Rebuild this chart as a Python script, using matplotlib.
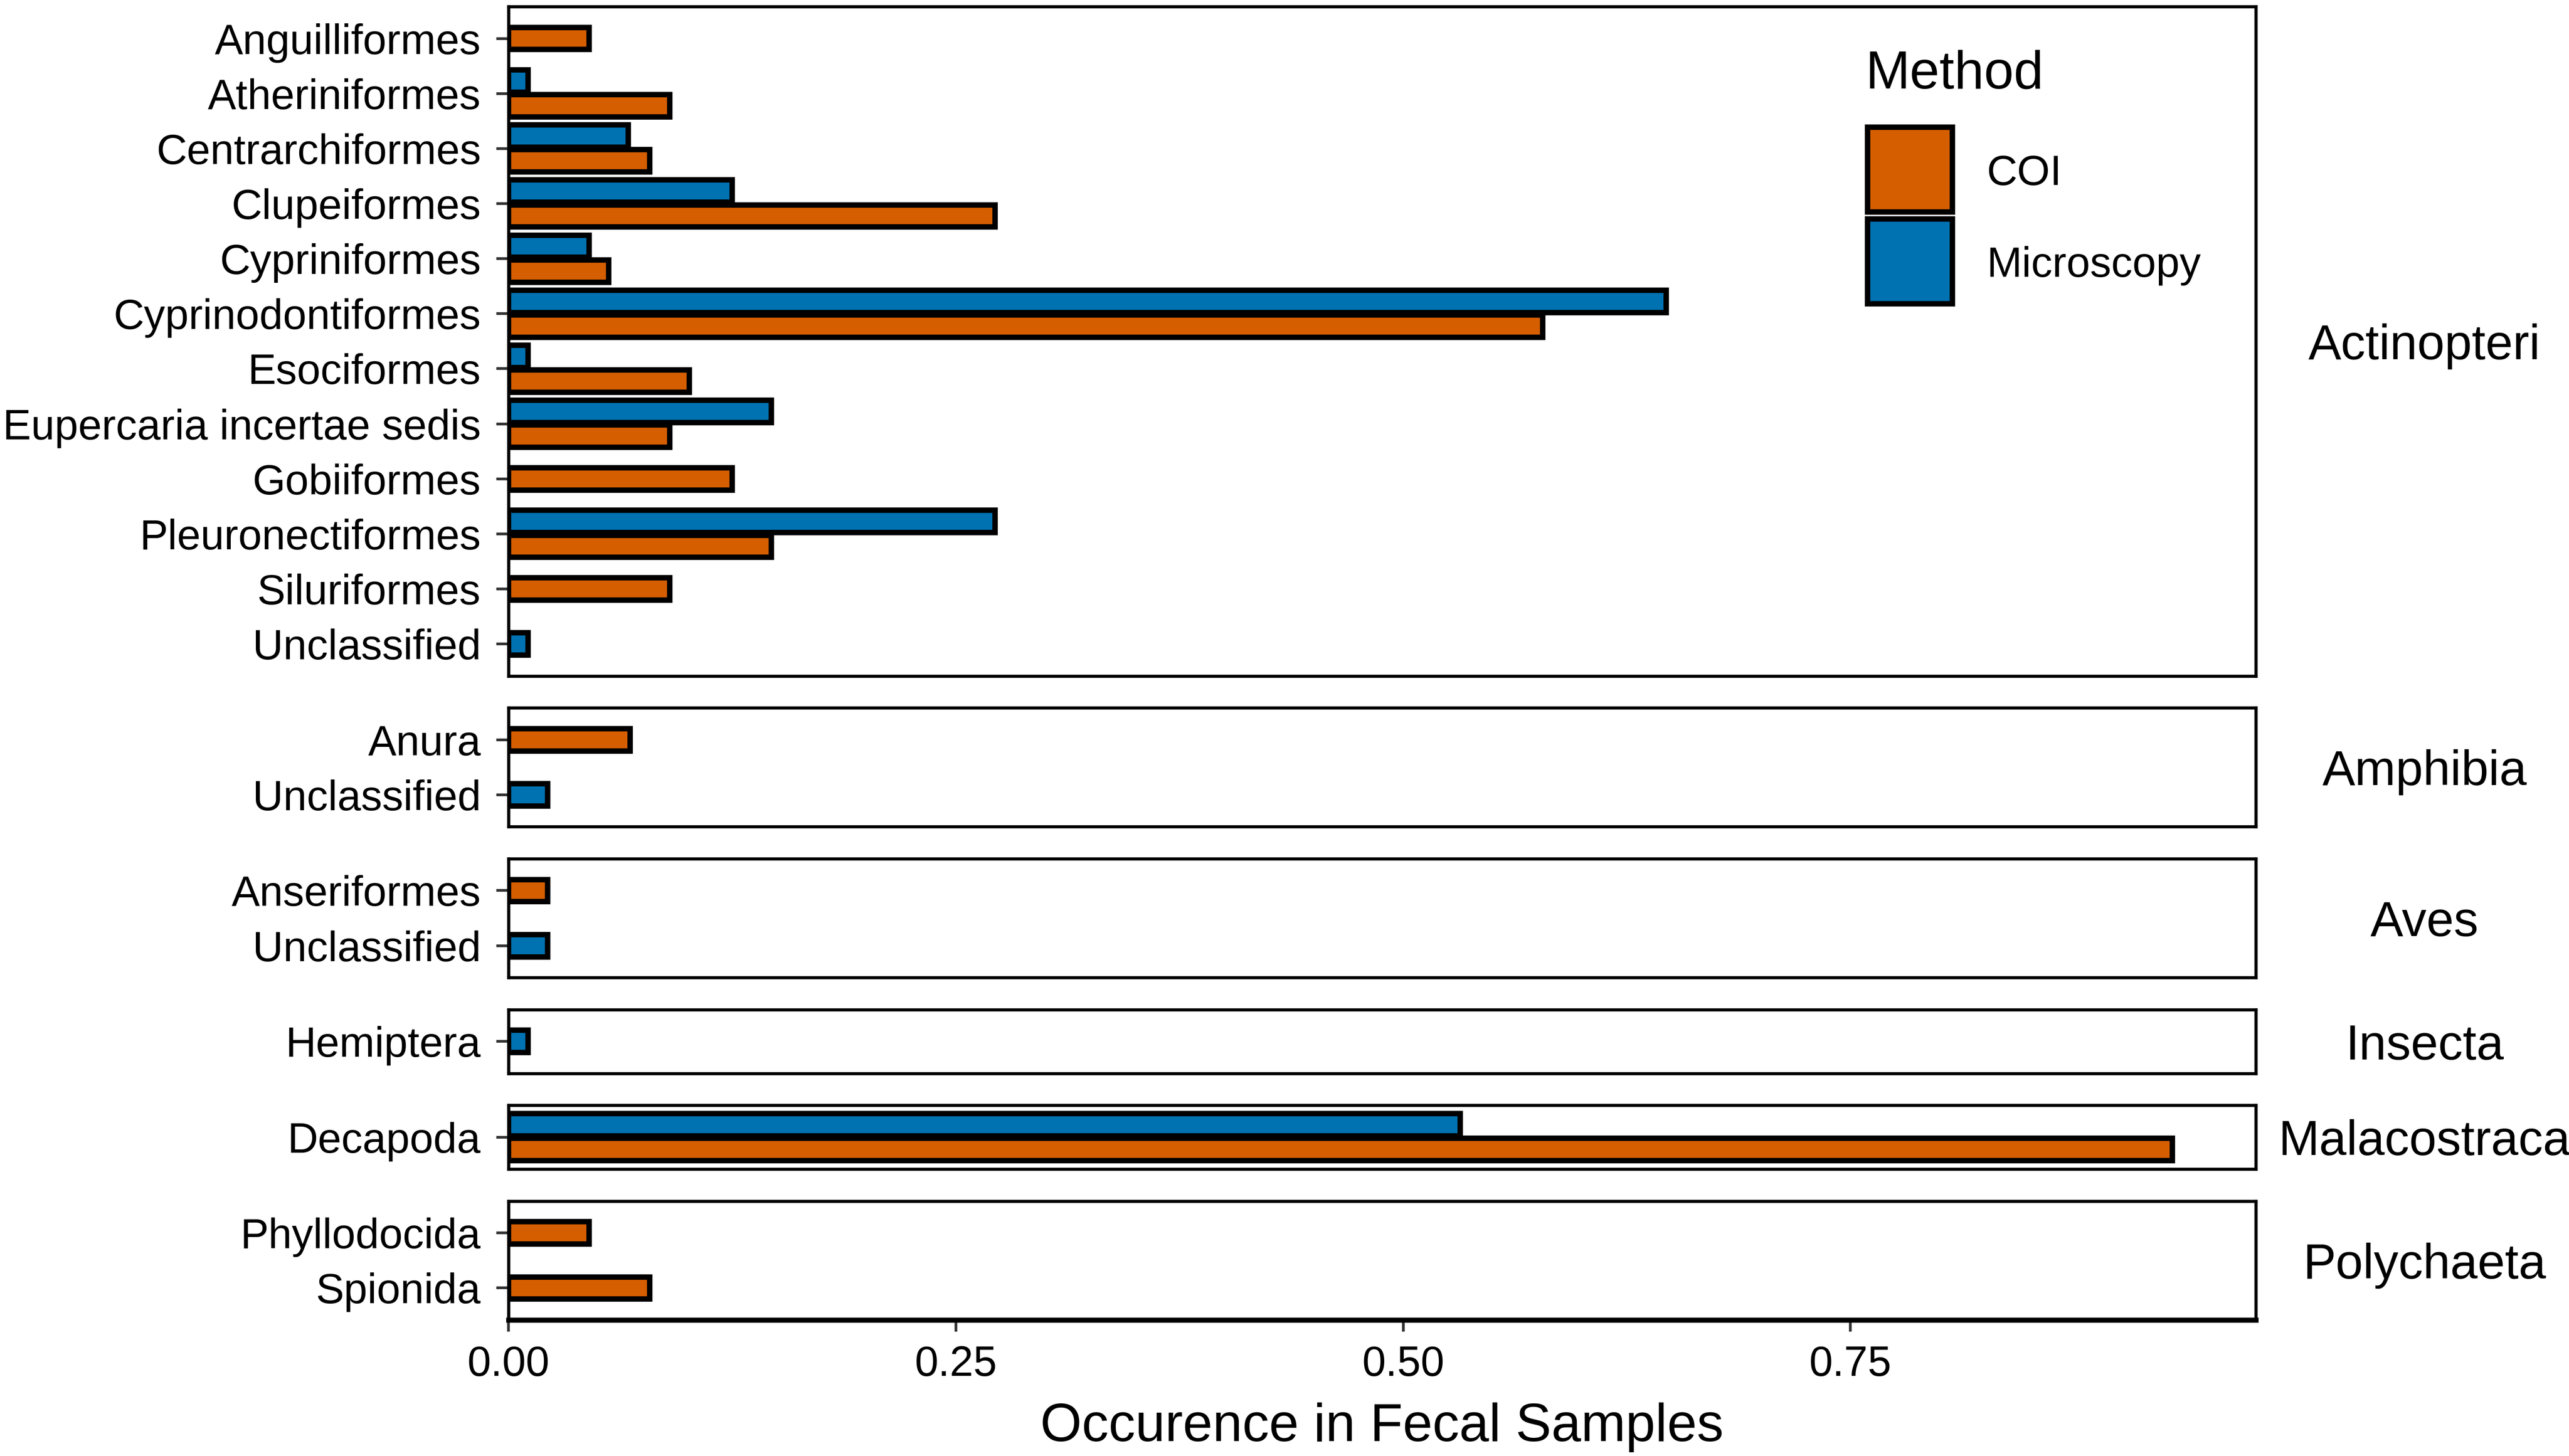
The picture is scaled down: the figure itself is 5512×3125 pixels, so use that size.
import numpy as np
import matplotlib.pyplot as plt
from matplotlib.patches import Rectangle
from matplotlib.ticker import FormatStrFormatter

plt.rcParams['font.family'] = ['Liberation Sans', 'DejaVu Sans']

# --- DATI (occorrenza nei campioni fecali) ---
CLASSI = ["Actinopteri", "Amphibia", "Aves", "Insecta", "Malacostraca", "Polychaeta"]
nan = np.nan

actinopteri_ordini = ["Anguilliformes", "Atheriniformes", "Centrarchiformes", "Clupeiformes",
                      "Cypriniformes", "Cyprinodontiformes", "Esociformes",
                      "Eupercaria incertae sedis", "Gobiiformes", "Pleuronectiformes",
                      "Siluriformes", "Unclassified"]
actinopteri_coi = [0.045, 0.090, 0.079, 0.272, 0.056, 0.578, 0.101, 0.090, 0.125, 0.147, 0.090, nan]
actinopteri_micro = [nan, 0.011, 0.067, 0.125, 0.045, 0.647, 0.011, 0.147, nan, 0.272, nan, 0.011]

amphibia_ordini = ["Anura", "Unclassified"]
amphibia_coi = [0.068, nan]
amphibia_micro = [nan, 0.022]

aves_ordini = ["Anseriformes", "Unclassified"]
aves_coi = [0.022, nan]
aves_micro = [nan, 0.022]

insecta_ordini = ["Hemiptera"]
insecta_coi = [nan]
insecta_micro = [0.011]

malacostraca_ordini = ["Decapoda"]
malacostraca_coi = [0.930]
malacostraca_micro = [0.532]

polychaeta_ordini = ["Phyllodocida", "Spionida"]
polychaeta_coi = [0.045, 0.079]
polychaeta_micro = [nan, nan]

METODI = ["COI", "Microscopy"]
COLORI = {"COI": "#D55E00", "Microscopy": "#0072B2"}

pannelli = [
    (actinopteri_ordini, actinopteri_coi, actinopteri_micro),
    (amphibia_ordini, amphibia_coi, amphibia_micro),
    (aves_ordini, aves_coi, aves_micro),
    (insecta_ordini, insecta_coi, insecta_micro),
    (malacostraca_ordini, malacostraca_coi, malacostraca_micro),
    (polychaeta_ordini, polychaeta_coi, polychaeta_micro),
]

# --- FIGURA ---
W, H = 5512, 3125
fig = plt.figure(figsize=(W / 300, H / 300), dpi=300)
altezze = [len(p[0]) - 1 + 1.16 for p in pannelli]
gs = fig.add_gridspec(len(pannelli), 1, height_ratios=altezze,
                      left=1091 / W, right=4840 / W, top=1 - 14 / H, bottom=1 - 2833 / H,
                      hspace=0.166)

x_max = np.nanmax([np.nanmax(p[1] + p[2]) for p in pannelli]) * 1.05
larg_barra = 0.405
spost = 0.225
lw_barra = 2.8

assi = []
for k, (ordini, coi, micro) in enumerate(pannelli):
    ax = fig.add_subplot(gs[k])
    assi.append(ax)
    n = len(ordini)
    for i in range(n):
        entrambi = not np.isnan(coi[i]) and not np.isnan(micro[i])
        if not np.isnan(coi[i]):
            ax.barh(i + (spost if entrambi else 0), coi[i], height=larg_barra,
                    color=COLORI["COI"], edgecolor="black", linewidth=lw_barra)
        if not np.isnan(micro[i]):
            ax.barh(i - (spost if entrambi else 0), micro[i], height=larg_barra,
                    color=COLORI["Microscopy"], edgecolor="black", linewidth=lw_barra)

    ax.set_xlim(0, x_max)
    ax.set_ylim(n - 1 + 0.58, -0.58)
    ax.set_yticks(range(n))
    ax.set_yticklabels(ordini)
    ax.tick_params(axis="y", length=6.2, width=1.4, color="#333333", pad=8,
                   labelsize=21.8, labelcolor="black")
    for s in ax.spines.values():
        s.set_linewidth(1.6)
        s.set_color("black")

    if k < len(pannelli) - 1:
        ax.tick_params(axis="x", bottom=False, labelbottom=False)
    else:
        ax.set_xticks([0, 0.25, 0.5, 0.75])
        ax.xaxis.set_major_formatter(FormatStrFormatter("%.2f"))
        ax.tick_params(axis="x", length=6, width=1.4, color="#333333", pad=7,
                       labelsize=21.8, labelcolor="black")
        ax.spines["bottom"].set_linewidth(2.6)
        ax.set_xlabel("Occurence in Fecal Samples", fontsize=27.5, labelpad=9)

    pos = ax.get_position()
    fig.text(5202 / W, (pos.y0 + pos.y1) / 2, CLASSI[k], fontsize=25.3,
             ha="center", va="center_baseline")

# --- LEGENDA ---
fig.text(4003 / W, 1 - 190 / H, "Method", fontsize=27.5, ha="left", va="baseline")
lato = 182
for j, metodo in enumerate(METODI):
    top = 273 + j * (lato + 15)
    fig.add_artist(Rectangle((4007 / W, 1 - (top + lato) / H), lato / W, lato / H,
                             transform=fig.transFigure, facecolor=COLORI[metodo],
                             edgecolor="black", linewidth=lw_barra))
    fig.text(4262 / W, 1 - (top + lato / 2) / H, metodo, fontsize=21.8,
             ha="left", va="center_baseline")

fig.savefig("out.png", dpi=300)
